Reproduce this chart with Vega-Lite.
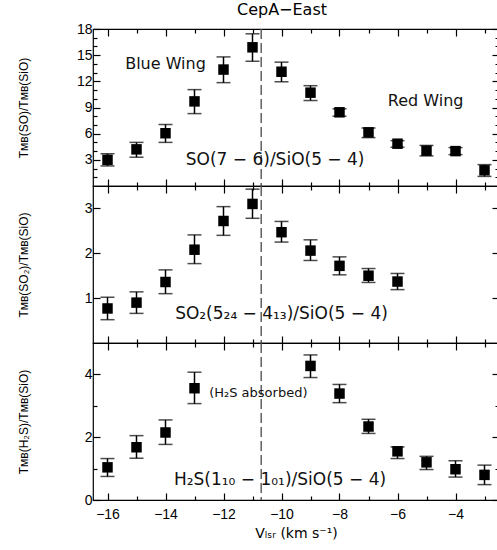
{
  "$schema": "https://vega.github.io/schema/vega-lite/v6.json",
  "background": "white",
  "padding": {"left": 16, "top": 0, "right": 0, "bottom": 5},
  "bounds": "flush",
  "spacing": 0,
  "config": {
    "font": "DejaVu Sans",
    "view": {"stroke": "black", "strokeWidth": 1.2},
    "axis": {"domain": false, "grid": false, "labelFontSize": 14, "labelColor": "black", "labelFont": "Liberation Sans", "tickColor": "black", "tickWidth": 1.2, "titleFontSize": 12, "titleFontWeight": "normal", "titleColor": "black", "titleFont": "Liberation Sans"},
    "concat": {"spacing": 0}
  },
  "datasets": {
    "so": [
      {"v": -16, "r": 3.0, "lo": 2.3, "hi": 3.7},
      {"v": -15, "r": 4.2, "lo": 3.3, "hi": 5.0},
      {"v": -14, "r": 6.05, "lo": 5.0, "hi": 7.05},
      {"v": -13, "r": 9.7, "lo": 8.3, "hi": 11.05},
      {"v": -12, "r": 13.35, "lo": 11.85, "hi": 14.8},
      {"v": -11, "r": 15.9, "lo": 14.3, "hi": 17.45},
      {"v": -10, "r": 13.1, "lo": 11.95, "hi": 14.2},
      {"v": -9, "r": 10.7, "lo": 9.8, "hi": 11.5},
      {"v": -8, "r": 8.45, "lo": 8.0, "hi": 8.85},
      {"v": -7, "r": 6.15, "lo": 5.55, "hi": 6.65},
      {"v": -6, "r": 4.85, "lo": 4.45, "hi": 5.2},
      {"v": -5, "r": 4.05, "lo": 3.45, "hi": 4.65},
      {"v": -4, "r": 4.0, "lo": 3.6, "hi": 4.4},
      {"v": -3, "r": 1.8, "lo": 1.1, "hi": 2.45}
    ],
    "so2": [
      {"v": -16, "r": 0.77, "lo": 0.52, "hi": 1.02},
      {"v": -15, "r": 0.9, "lo": 0.66, "hi": 1.14},
      {"v": -14, "r": 1.36, "lo": 1.1, "hi": 1.63},
      {"v": -13, "r": 2.08, "lo": 1.77, "hi": 2.41},
      {"v": -12, "r": 2.72, "lo": 2.4, "hi": 3.04},
      {"v": -11, "r": 3.1, "lo": 2.78, "hi": 3.43},
      {"v": -10, "r": 2.47, "lo": 2.25, "hi": 2.71},
      {"v": -9, "r": 2.06, "lo": 1.84, "hi": 2.3},
      {"v": -8, "r": 1.72, "lo": 1.52, "hi": 1.92},
      {"v": -7, "r": 1.5, "lo": 1.35, "hi": 1.66},
      {"v": -6, "r": 1.37, "lo": 1.19, "hi": 1.55}
    ],
    "h2s": [
      {"v": -16, "r": 1.04, "lo": 0.75, "hi": 1.32},
      {"v": -15, "r": 1.68, "lo": 1.33, "hi": 2.05},
      {"v": -14, "r": 2.15, "lo": 1.77, "hi": 2.55},
      {"v": -13, "r": 3.56, "lo": 3.07, "hi": 4.07},
      {"v": -9, "r": 4.27, "lo": 3.9, "hi": 4.62},
      {"v": -8, "r": 3.39, "lo": 3.1, "hi": 3.68},
      {"v": -7, "r": 2.34, "lo": 2.12, "hi": 2.57},
      {"v": -6, "r": 1.55, "lo": 1.32, "hi": 1.69},
      {"v": -5, "r": 1.2, "lo": 0.97, "hi": 1.39},
      {"v": -4, "r": 0.98, "lo": 0.73, "hi": 1.25},
      {"v": -3, "r": 0.8, "lo": 0.49, "hi": 1.11}
    ],
    "divide": [{"v": -10.7}]
  },
  "vconcat": [
    {
      "width": 406, "height": 157,
      "title": {"text": "CepA−East", "fontSize": 16, "fontWeight": "normal", "font": "DejaVu Sans", "color": "black", "frame": "group", "dx": -14, "offset": 4.5},
      "layer": [
        {"data": {"name": "so"}, "mark": {"type": "rule", "strokeWidth": 1.5, "color": "black"},
         "encoding": {
           "x": {"field": "v", "type": "quantitative", "scale": {"domain": [-16.5, -2.5], "nice": false, "zero": false},
                 "axis": {"orient": "bottom", "values": [-16,-15,-14,-13,-12,-11,-10,-9,-8,-7,-6,-5,-4,-3], "labels": false, "title": null, "tickSize": {"condition": {"test": "datum.value % 2 == 0", "value": -7}, "value": -4}}},
           "y": {"field": "lo", "type": "quantitative", "scale": {"domain": [0, 18], "nice": false, "zero": false},
                 "axis": {"orient": "left", "values": [1,2,3,4,5,6,7,8,9,10,11,12,13,14,15,16,17,18], "labelExpr": "datum.value % 3 == 0 ? datum.label : ''", "labelPadding": 8, "tickSize": {"condition": {"test": "datum.value % 3 == 0", "value": -7}, "value": -4}, "title": "Tᴍʙ(SO)/Tᴍʙ(SiO)", "titleX": -70, "titleBaseline": "middle"}},
           "y2": {"field": "hi"}}},
        {"data": {"name": "so"}, "mark": {"type": "tick", "orient": "horizontal", "size": 14, "thickness": 1.5, "color": "black"},
         "encoding": {
           "x": {"field": "v", "type": "quantitative", "scale": {"domain": [-16.5, -2.5], "nice": false, "zero": false},
                 "axis": {"orient": "top", "values": [-16,-15,-14,-13,-12,-11,-10,-9,-8,-7,-6,-5,-4,-3], "labels": false, "title": null, "tickSize": {"condition": {"test": "datum.value % 2 == 0", "value": -7}, "value": -4}}},
           "y": {"field": "lo", "type": "quantitative", "scale": {"domain": [0, 18], "nice": false, "zero": false},
                 "axis": {"orient": "right", "values": [1,2,3,4,5,6,7,8,9,10,11,12,13,14,15,16,17,18], "labels": false, "title": null, "tickSize": {"condition": {"test": "datum.value % 3 == 0", "value": -7}, "value": -4}}}}},
        {"data": {"name": "so"}, "mark": {"type": "tick", "orient": "horizontal", "size": 14, "thickness": 1.5, "color": "black"},
         "encoding": {
           "x": {"field": "v", "type": "quantitative", "scale": {"domain": [-16.5, -2.5], "nice": false, "zero": false}, "axis": null},
           "y": {"field": "hi", "type": "quantitative", "scale": {"domain": [0, 18], "nice": false, "zero": false}, "axis": null}}},
        {"data": {"name": "so"}, "mark": {"type": "square", "size": 110, "filled": true, "color": "black", "opacity": 1},
         "encoding": {
           "x": {"field": "v", "type": "quantitative", "scale": {"domain": [-16.5, -2.5], "nice": false, "zero": false}, "axis": null},
           "y": {"field": "r", "type": "quantitative", "scale": {"domain": [0, 18], "nice": false, "zero": false}, "axis": null}}},
        {"data": {"name": "divide"}, "mark": {"type": "rule", "strokeDash": [10, 4], "strokeWidth": 1.4, "color": "#555555"},
         "encoding": {"x": {"field": "v", "type": "quantitative", "scale": {"domain": [-16.5, -2.5], "nice": false, "zero": false}, "axis": null}}},
        {"data": {"values": [
            {"v": -14.0, "r": 14.0, "label": "Blue Wing"},
            {"v": -5.03, "r": 9.8, "label": "Red Wing"}]},
         "mark": {"type": "text", "fontSize": 16, "font": "DejaVu Sans", "color": "#111111", "align": "center", "baseline": "middle"},
         "encoding": {
           "x": {"field": "v", "type": "quantitative", "scale": {"domain": [-16.5, -2.5], "nice": false, "zero": false}, "axis": null},
           "y": {"field": "r", "type": "quantitative", "scale": {"domain": [0, 18], "nice": false, "zero": false}, "axis": null},
           "text": {"field": "label"}}},
        {"data": {"values": [
            {"v": -10.22, "r": 3.0, "label": "SO(7 − 6)/SiO(5 − 4)"}]},
         "mark": {"type": "text", "fontSize": 17, "font": "DejaVu Sans", "color": "#111111", "align": "center", "baseline": "middle"},
         "encoding": {
           "x": {"field": "v", "type": "quantitative", "scale": {"domain": [-16.5, -2.5], "nice": false, "zero": false}, "axis": null},
           "y": {"field": "r", "type": "quantitative", "scale": {"domain": [0, 18], "nice": false, "zero": false}, "axis": null},
           "text": {"field": "label"}}}
      ],
      "resolve": {"axis": {"x": "independent", "y": "independent"}}
    },
    {
      "width": 406, "height": 157,
      "layer": [
        {"data": {"name": "so2"}, "mark": {"type": "rule", "strokeWidth": 1.5, "color": "black"},
         "encoding": {
           "x": {"field": "v", "type": "quantitative", "scale": {"domain": [-16.5, -2.5], "nice": false, "zero": false},
                 "axis": {"orient": "bottom", "values": [-16,-15,-14,-13,-12,-11,-10,-9,-8,-7,-6,-5,-4,-3], "labels": false, "title": null, "tickSize": {"condition": {"test": "datum.value % 2 == 0", "value": -7}, "value": -4}}},
           "y": {"field": "lo", "type": "quantitative", "scale": {"domain": [0, 3.5], "nice": false, "zero": false},
                 "axis": {"orient": "left", "values": [1, 2, 3], "labelPadding": 8, "tickSize": -7, "title": "Tᴍʙ(SO₂)/Tᴍʙ(SiO)", "titleX": -70, "titleBaseline": "middle"}},
           "y2": {"field": "hi"}}},
        {"data": {"name": "so2"}, "mark": {"type": "tick", "orient": "horizontal", "size": 14, "thickness": 1.5, "color": "black"},
         "encoding": {
           "x": {"field": "v", "type": "quantitative", "scale": {"domain": [-16.5, -2.5], "nice": false, "zero": false},
                 "axis": {"orient": "top", "values": [-16,-15,-14,-13,-12,-11,-10,-9,-8,-7,-6,-5,-4,-3], "labels": false, "title": null, "tickSize": {"condition": {"test": "datum.value % 2 == 0", "value": -7}, "value": -4}}},
           "y": {"field": "lo", "type": "quantitative", "scale": {"domain": [0, 3.5], "nice": false, "zero": false},
                 "axis": {"orient": "right", "values": [1, 2, 3], "labels": false, "title": null, "tickSize": -7}}}},
        {"data": {"name": "so2"}, "mark": {"type": "tick", "orient": "horizontal", "size": 14, "thickness": 1.5, "color": "black"},
         "encoding": {
           "x": {"field": "v", "type": "quantitative", "scale": {"domain": [-16.5, -2.5], "nice": false, "zero": false}, "axis": null},
           "y": {"field": "hi", "type": "quantitative", "scale": {"domain": [0, 3.5], "nice": false, "zero": false}, "axis": null}}},
        {"data": {"name": "so2"}, "mark": {"type": "square", "size": 110, "filled": true, "color": "black", "opacity": 1},
         "encoding": {
           "x": {"field": "v", "type": "quantitative", "scale": {"domain": [-16.5, -2.5], "nice": false, "zero": false}, "axis": null},
           "y": {"field": "r", "type": "quantitative", "scale": {"domain": [0, 3.5], "nice": false, "zero": false}, "axis": null}}},
        {"data": {"name": "divide"}, "mark": {"type": "rule", "strokeDash": [10, 4], "strokeWidth": 1.4, "color": "#555555"},
         "encoding": {"x": {"field": "v", "type": "quantitative", "scale": {"domain": [-16.5, -2.5], "nice": false, "zero": false}, "axis": null}}},
        {"data": {"values": [
            {"v": -10.0, "r": 0.64, "label": "SO₂(5₂₄ − 4₁₃)/SiO(5 − 4)"}]},
         "mark": {"type": "text", "fontSize": 17, "font": "DejaVu Sans", "color": "#111111", "align": "center", "baseline": "middle"},
         "encoding": {
           "x": {"field": "v", "type": "quantitative", "scale": {"domain": [-16.5, -2.5], "nice": false, "zero": false}, "axis": null},
           "y": {"field": "r", "type": "quantitative", "scale": {"domain": [0, 3.5], "nice": false, "zero": false}, "axis": null},
           "text": {"field": "label"}}}
      ],
      "resolve": {"axis": {"x": "independent", "y": "independent"}}
    },
    {
      "width": 406, "height": 157,
      "layer": [
        {"data": {"name": "h2s"}, "mark": {"type": "rule", "strokeWidth": 1.5, "color": "black"},
         "encoding": {
           "x": {"field": "v", "type": "quantitative", "scale": {"domain": [-16.5, -2.5], "nice": false, "zero": false},
                 "axis": {"orient": "bottom", "values": [-16,-15,-14,-13,-12,-11,-10,-9,-8,-7,-6,-5,-4,-3], "labelExpr": "datum.value % 2 == 0 ? datum.label : ''", "labelPadding": 14, "title": "Vₗₛᵣ (km s⁻¹)", "titleFont": "DejaVu Sans", "titleFontSize": 14, "titlePadding": 5, "tickSize": {"condition": {"test": "datum.value % 2 == 0", "value": -7}, "value": -4}}},
           "y": {"field": "lo", "type": "quantitative", "scale": {"domain": [0, 5], "nice": false, "zero": false},
                 "axis": {"orient": "left", "values": [0, 1, 2, 3, 4], "labelExpr": "datum.value % 2 == 0 ? datum.label : ''", "labelPadding": 8, "tickSize": {"condition": {"test": "datum.value % 2 == 0", "value": -7}, "value": -4}, "title": "Tᴍʙ(H₂S)/Tᴍʙ(SiO)", "titleX": -70, "titleBaseline": "middle"}},
           "y2": {"field": "hi"}}},
        {"data": {"name": "h2s"}, "mark": {"type": "tick", "orient": "horizontal", "size": 14, "thickness": 1.5, "color": "black"},
         "encoding": {
           "x": {"field": "v", "type": "quantitative", "scale": {"domain": [-16.5, -2.5], "nice": false, "zero": false},
                 "axis": {"orient": "top", "values": [-16,-15,-14,-13,-12,-11,-10,-9,-8,-7,-6,-5,-4,-3], "labels": false, "title": null, "tickSize": {"condition": {"test": "datum.value % 2 == 0", "value": -7}, "value": -4}}},
           "y": {"field": "lo", "type": "quantitative", "scale": {"domain": [0, 5], "nice": false, "zero": false},
                 "axis": {"orient": "right", "values": [0, 1, 2, 3, 4], "labels": false, "title": null, "tickSize": {"condition": {"test": "datum.value % 2 == 0", "value": -7}, "value": -4}}}}},
        {"data": {"name": "h2s"}, "mark": {"type": "tick", "orient": "horizontal", "size": 14, "thickness": 1.5, "color": "black"},
         "encoding": {
           "x": {"field": "v", "type": "quantitative", "scale": {"domain": [-16.5, -2.5], "nice": false, "zero": false}, "axis": null},
           "y": {"field": "hi", "type": "quantitative", "scale": {"domain": [0, 5], "nice": false, "zero": false}, "axis": null}}},
        {"data": {"name": "h2s"}, "mark": {"type": "square", "size": 110, "filled": true, "color": "black", "opacity": 1},
         "encoding": {
           "x": {"field": "v", "type": "quantitative", "scale": {"domain": [-16.5, -2.5], "nice": false, "zero": false}, "axis": null},
           "y": {"field": "r", "type": "quantitative", "scale": {"domain": [0, 5], "nice": false, "zero": false}, "axis": null}}},
        {"data": {"name": "divide"}, "mark": {"type": "rule", "strokeDash": [10, 4], "strokeWidth": 1.4, "color": "#555555"},
         "encoding": {"x": {"field": "v", "type": "quantitative", "scale": {"domain": [-16.5, -2.5], "nice": false, "zero": false}, "axis": null}}},
        {"data": {"values": [
            {"v": -10.05, "r": 0.65, "label": "H₂S(1₁₀ − 1₀₁)/SiO(5 − 4)"}]},
         "mark": {"type": "text", "fontSize": 17, "font": "DejaVu Sans", "color": "#111111", "align": "center", "baseline": "middle"},
         "encoding": {
           "x": {"field": "v", "type": "quantitative", "scale": {"domain": [-16.5, -2.5], "nice": false, "zero": false}, "axis": null},
           "y": {"field": "r", "type": "quantitative", "scale": {"domain": [0, 5], "nice": false, "zero": false}, "axis": null},
           "text": {"field": "label"}}},
        {"data": {"values": [
            {"v": -10.8, "r": 3.4, "label": "(H₂S absorbed)"}]},
         "mark": {"type": "text", "fontSize": 13, "font": "DejaVu Sans", "color": "#111111", "align": "center", "baseline": "middle"},
         "encoding": {
           "x": {"field": "v", "type": "quantitative", "scale": {"domain": [-16.5, -2.5], "nice": false, "zero": false}, "axis": null},
           "y": {"field": "r", "type": "quantitative", "scale": {"domain": [0, 5], "nice": false, "zero": false}, "axis": null},
           "text": {"field": "label"}}}
      ],
      "resolve": {"axis": {"x": "independent", "y": "independent"}}
    }
  ]
}
